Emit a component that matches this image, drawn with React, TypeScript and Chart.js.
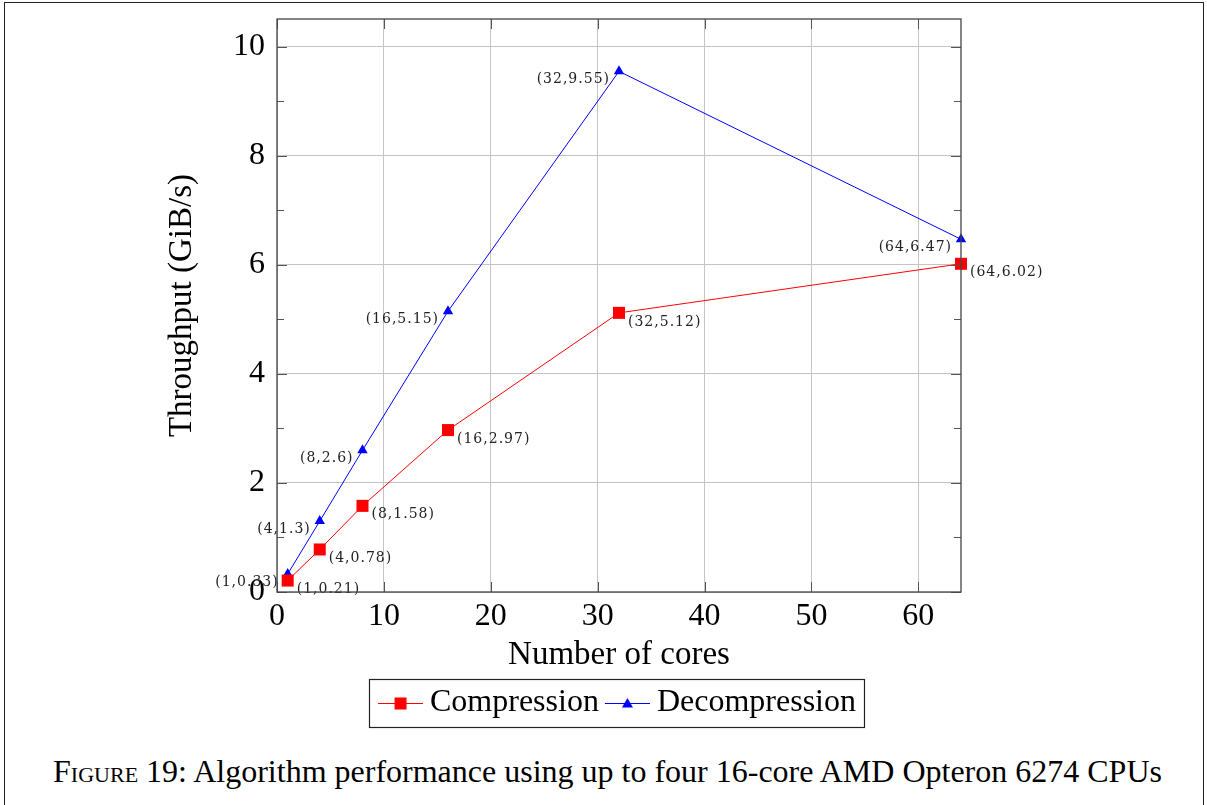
import React, { useEffect, useRef } from "react";
import { Chart, registerables } from "chart.js";

Chart.register(...registerables);

const cores = [1, 4, 8, 16, 32, 64];
const compression = [0.21, 0.78, 1.58, 2.97, 5.12, 6.02];
const decompression = [0.33, 1.3, 2.6, 5.15, 9.55, 6.47];
const seriesNames = ["Compression", "Decompression"];
const xTitle = "Number of cores";
const yTitle = "Throughput (GiB/s)";
const captionLabel = "Figure";
const captionText = " 19: Algorithm performance using up to four 16-core AMD Opteron 6274 CPUs";

const SERIF = "'Liberation Serif', 'Times New Roman', serif";
const LABEL_FONT = "14px 'DejaVu Serif', serif";

function makeIcon(color: string, shape: "rect" | "triangle"): HTMLCanvasElement {
  const c = document.createElement("canvas");
  c.width = 50;
  c.height = 16;
  const g = c.getContext("2d")!;
  g.strokeStyle = color;
  g.lineWidth = 1;
  g.beginPath();
  g.moveTo(5, 8.5);
  g.lineTo(50, 8.5);
  g.stroke();
  g.fillStyle = color;
  const cx = 27.5;
  if (shape === "rect") {
    g.fillRect(cx - 6, 8.5 - 6, 12, 12);
  } else {
    g.beginPath();
    g.moveTo(cx, 3);
    g.lineTo(cx + 5.5, 12.5);
    g.lineTo(cx - 5.5, 12.5);
    g.closePath();
    g.fill();
  }
  return c;
}

const pointLabels = {
  id: "pointLabels",
  afterDatasetsDraw(chart: any) {
    const ctx = chart.ctx;
    ctx.save();
    ctx.font = LABEL_FONT;
    (ctx as any).letterSpacing = "1px";
    ctx.fillStyle = "#222";
    ctx.textBaseline = "middle";
    chart.data.datasets.forEach((ds: any, di: number) => {
      const meta = chart.getDatasetMeta(di);
      meta.data.forEach((el: any, i: number) => {
        const p = ds.data[i];
        const txt = `(${p.x},${p.y})`;
        if (di === 0) {
          ctx.textAlign = "left";
          ctx.fillText(txt, el.x + 9, el.y + 9);
        } else {
          ctx.textAlign = "right";
          ctx.fillText(txt, el.x - 9, el.y + 8);
        }
      });
    });
    ctx.restore();
  },
};

const innerTicks = {
  id: "innerTicks",
  afterDraw(chart: any) {
    const { ctx, chartArea: a, scales } = chart;
    const xs = scales.x;
    const ys = scales.y;
    ctx.save();
    ctx.strokeStyle = "#555";
    ctx.lineWidth = 1;
    ctx.beginPath();
    for (let v = Math.ceil(ys.min); v <= ys.max; v++) {
      const y = Math.round(ys.getPixelForValue(v)) + 0.5;
      const len = v % 2 === 0 ? 10 : 7;
      ctx.moveTo(a.left, y);
      ctx.lineTo(a.left + len, y);
      ctx.moveTo(a.right, y);
      ctx.lineTo(a.right - len, y);
    }
    xs.ticks.forEach((t: any) => {
      const x = Math.round(xs.getPixelForValue(t.value)) + 0.5;
      ctx.moveTo(x, a.top);
      ctx.lineTo(x, a.top + 10);
      ctx.moveTo(x, a.bottom);
      ctx.lineTo(x, a.bottom - 10);
    });
    ctx.stroke();
    ctx.strokeStyle = "#444";
    ctx.lineWidth = 1.3;
    ctx.strokeRect(a.left, a.top, a.right - a.left, a.bottom - a.top);
    const lg = chart.legend;
    if (lg && lg.legendHitBoxes && lg.legendHitBoxes.length) {
      const hb = lg.legendHitBoxes;
      const first = hb[0];
      const last = hb[hb.length - 1];
      const left = first.left - 13;
      const right = last.left + last.width + 8;
      ctx.strokeStyle = "#222";
      ctx.lineWidth = 1.2;
      ctx.strokeRect(Math.round(left) + 0.5, lg.top + 2.5, Math.round(right - left), 48);
    }
    ctx.restore();
  },
};

export default function App() {
  const ref = useRef<HTMLCanvasElement>(null);
  useEffect(() => {
    document.body.style.margin = "0";
    const icons = [makeIcon("#ff0000", "rect"), makeIcon("#0000ff", "triangle")];
    const chart = new Chart(ref.current!, {
      type: "scatter",
      data: {
        datasets: [
          {
            label: seriesNames[0],
            data: cores.map((c, i) => ({ x: c, y: compression[i] })),
            showLine: true,
            borderColor: "#ff0000",
            backgroundColor: "#ff0000",
            borderWidth: 1,
            pointStyle: "rect",
            pointRadius: 8.5,
            pointHoverRadius: 8.5,
            pointBorderWidth: 0,
            clip: false,
          },
          {
            label: seriesNames[1],
            data: cores.map((c, i) => ({ x: c, y: decompression[i] })),
            showLine: true,
            borderColor: "#0000ff",
            backgroundColor: "#0000ff",
            borderWidth: 1,
            pointStyle: "triangle",
            pointRadius: 6,
            pointHoverRadius: 6,
            pointBorderWidth: 0,
            clip: false,
          },
        ],
      } as any,
      options: {
        animation: false,
        responsive: false,
        events: [],
        layout: { padding: { left: 157, right: 246, top: 19, bottom: 11 } },
        scales: {
          x: {
            type: "linear",
            min: 0,
            max: 64,
            afterFit: (s: any) => {
              s.height = 85;
              s.paddingLeft = 0;
              s.paddingRight = 0;
            },
            ticks: {
              stepSize: 10,
              includeBounds: false,
              color: "#000",
              font: { family: SERIF, size: 32 },
              padding: 5,
              maxRotation: 0,
            },
            grid: { color: "#c4c4c4", lineWidth: 1, drawTicks: false },
            border: { display: false },
            title: {
              display: true,
              text: xTitle,
              color: "#000",
              font: { family: SERIF, size: 33 },
              padding: { top: 0, bottom: 2 },
            },
          },
          y: {
            type: "linear",
            min: 0,
            max: 10.51,
            afterFit: (s: any) => {
              s.width = 120;
              s.paddingTop = 0;
              s.paddingBottom = 0;
            },
            ticks: {
              stepSize: 2,
              includeBounds: false,
              color: "#000",
              font: { family: SERIF, size: 32 },
              padding: 12,
            },
            grid: { color: "#c4c4c4", lineWidth: 1, drawTicks: false },
            border: { display: false },
            title: {
              display: true,
              text: yTitle,
              color: "#000",
              font: { family: SERIF, size: 33 },
              padding: { top: 6, bottom: 0 },
            },
          },
        },
        plugins: {
          tooltip: { enabled: false },
          legend: {
            position: "bottom",
            fullSize: false,
            labels: {
              usePointStyle: true,
              pointStyleWidth: 32,
              padding: 10,
              color: "#000",
              font: { family: SERIF, size: 32 },
              generateLabels: (ch: any) =>
                ch.data.datasets.map((ds: any, i: number) => ({
                  text: ds.label,
                  pointStyle: icons[i],
                  fillStyle: ds.borderColor,
                  strokeStyle: ds.borderColor,
                  lineWidth: 0,
                  hidden: false,
                  datasetIndex: i,
                  fontColor: "#000",
                })),
            },
          },
        },
      } as any,
      plugins: [pointLabels, innerTicks],
    });
    return () => chart.destroy();
  }, []);

  return (
    <div style={{ position: "relative", width: 1207, height: 805, overflow: "hidden", background: "#fff" }}>
      <div
        style={{
          position: "absolute",
          left: 4,
          top: 2,
          width: 1200,
          height: 900,
          borderTop: "1.5px solid #222",
          borderLeft: "1.5px solid #222",
          borderRight: "1.5px solid #222",
          boxSizing: "border-box",
        }}
      />
      <canvas ref={ref} width={1207} height={740} style={{ position: "absolute", left: 0, top: 0 }} />
      <div
        style={{
          position: "absolute",
          left: 4,
          top: 751,
          width: 1207,
          textAlign: "center",
          fontFamily: SERIF,
          fontSize: 32,
          color: "#000",
          lineHeight: "40px",
          whiteSpace: "nowrap",
        }}
      >
        <span style={{ fontVariant: "small-caps" }}>{captionLabel}</span>
        {captionText}
      </div>
    </div>
  );
}
